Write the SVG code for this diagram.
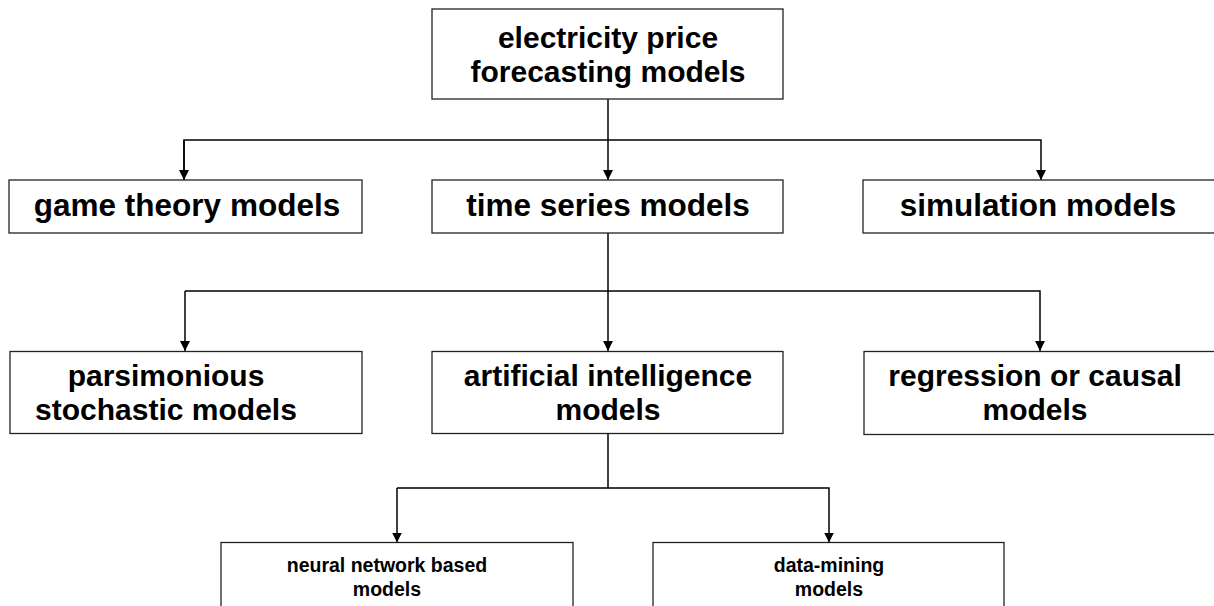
<svg xmlns="http://www.w3.org/2000/svg" width="1214" height="606" viewBox="0 0 1214 606">
<style>
.box{fill:#fff;stroke:#222;stroke-width:1.3}
.t{font-family:"Liberation Sans",Arial,sans-serif;font-weight:bold;font-size:31.5px;fill:#000;text-anchor:middle}
.m{font-family:"Liberation Sans",Arial,sans-serif;font-weight:bold;font-size:30px;fill:#000;text-anchor:middle}
.s{font-family:"Liberation Sans",Arial,sans-serif;font-weight:bold;font-size:19.5px;fill:#000;text-anchor:middle}
.c{fill:none;stroke:#000;stroke-width:1.5}
</style>
<defs>
<marker id="ah" viewBox="0 0 10 10" refX="10" refY="5" markerWidth="10" markerHeight="10" markerUnits="userSpaceOnUse" orient="auto">
<path d="M0,0 L10,5 L0,10 z" fill="#000"/>
</marker>
</defs>
<rect width="1214" height="606" fill="#fff"/>
<g id="connectors">
<path class="c" d="M608,99 V180" marker-end="url(#ah)"/>
<path class="c" d="M184,180 V140 H1041 V180" marker-end="url(#ah)"/>
<path class="c" d="M184,140 V180" marker-end="url(#ah)"/>
<path class="c" d="M608,233 V351" marker-end="url(#ah)"/>
<path class="c" d="M185,291 H1040 V351" marker-end="url(#ah)"/>
<path class="c" d="M185,291 V351" marker-end="url(#ah)"/>
<path class="c" d="M608,434 V488"/>
<path class="c" d="M397,488 H829 V542.5" marker-end="url(#ah)"/>
<path class="c" d="M397,488 V542.5" marker-end="url(#ah)"/>
</g>
<g id="root">
<rect class="box" x="432" y="9" width="351" height="90"/>
<text class="m" x="608" y="48">electricity price</text>
<text class="m" x="608" y="82">forecasting models</text>
</g>
<g id="game-theory">
<rect class="box" x="9" y="180" width="353" height="53"/>
<text class="t" x="187" y="216">game theory models</text>
</g>
<g id="time-series">
<rect class="box" x="432" y="180" width="351" height="53"/>
<text class="t" x="608" y="216">time series models</text>
</g>
<g id="simulation">
<rect class="box" x="863" y="180" width="352" height="53"/>
<text class="t" x="1038" y="216">simulation models</text>
</g>
<g id="parsimonious">
<rect class="box" x="10" y="351.5" width="352" height="82"/>
<text class="m" x="166" y="386">parsimonious</text>
<text class="m" x="166" y="420">stochastic models</text>
</g>
<g id="ai">
<rect class="box" x="432" y="351.5" width="351" height="82"/>
<text class="m" x="608" y="386">artificial intelligence</text>
<text class="m" x="608" y="420">models</text>
</g>
<g id="regression">
<rect class="box" x="864" y="351.5" width="352" height="83"/>
<text class="m" x="1035" y="386">regression or causal</text>
<text class="m" x="1035" y="420">models</text>
</g>
<g id="neural">
<rect class="box" x="221" y="542.5" width="352" height="80"/>
<text class="s" x="387" y="572">neural network based</text>
<text class="s" x="387" y="596">models</text>
</g>
<g id="data-mining">
<rect class="box" x="653" y="542.5" width="351" height="80"/>
<text class="s" x="829" y="572">data-mining</text>
<text class="s" x="829" y="596">models</text>
</g>
</svg>
